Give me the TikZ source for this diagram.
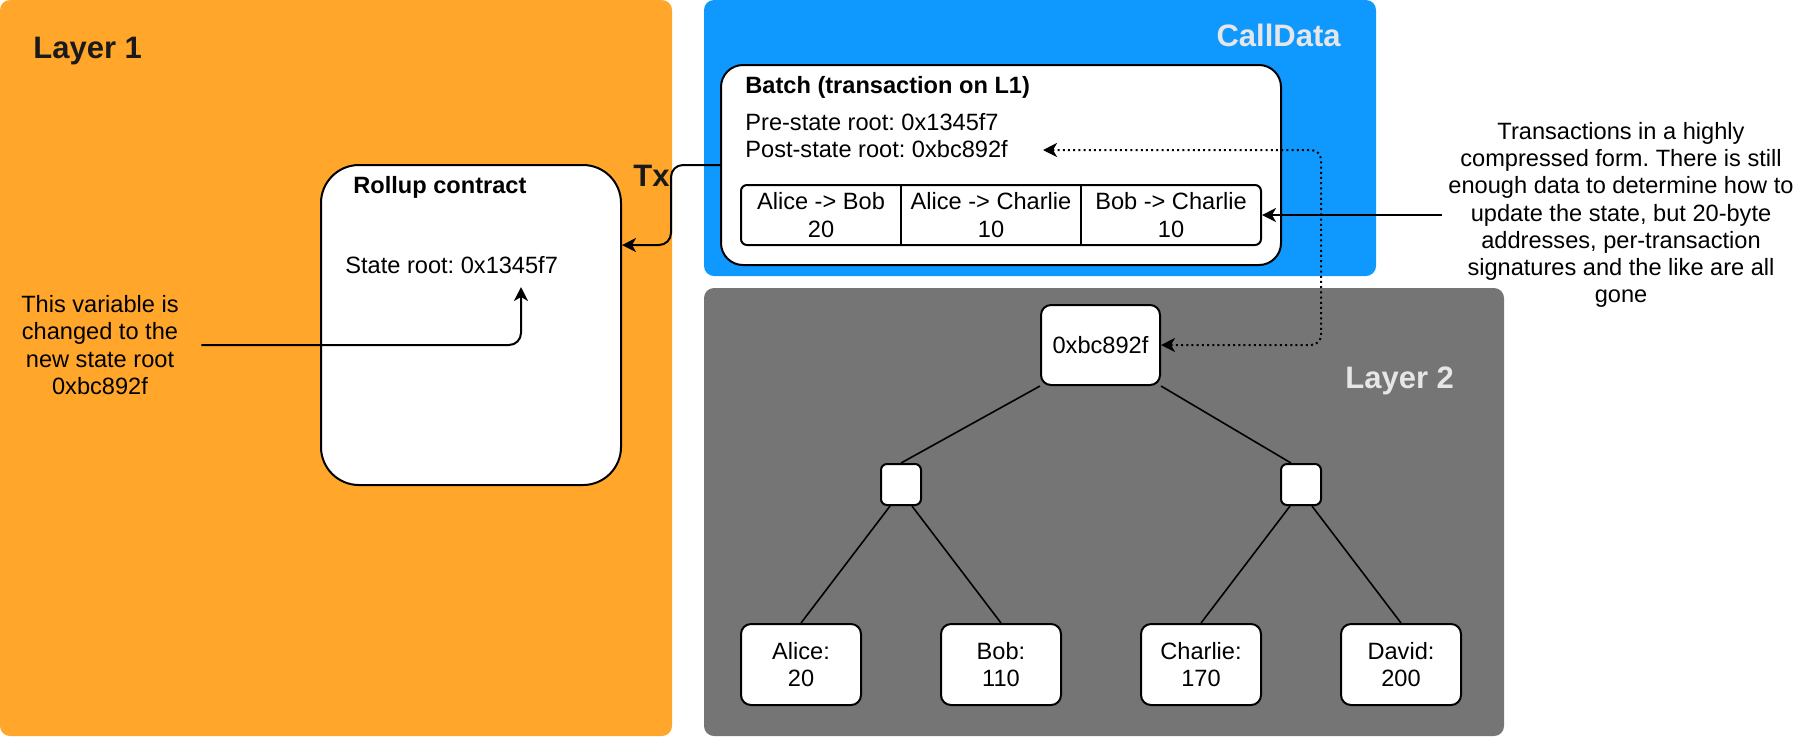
\documentclass[tikz,border=0pt]{standalone}
\usepackage{fontspec}
\setmainfont{Liberation Sans}
\usetikzlibrary{arrows.meta}
\definecolor{orangeL}{RGB}{255,166,43}
\definecolor{blueC}{RGB}{15,153,255}
\definecolor{grayL}{RGB}{117,117,117}
\definecolor{lightlab}{RGB}{230,230,230}
\definecolor{darklab}{RGB}{26,26,26}
\frenchspacing
\begin{document}
\begin{tikzpicture}[x=0.5pt,y=-0.5pt,
  txt/.style={font=\fontsize{11.8pt}{13.6pt}\selectfont, inner sep=0pt},
  btxt/.style={font=\fontsize{11.8pt}{13.6pt}\selectfont\bfseries, inner sep=0pt},
  head/.style={font=\fontsize{15.5pt}{18pt}\selectfont\bfseries, inner sep=0pt},
  wbox/.style={draw=black, line width=1pt, fill=white, inner sep=0pt, rounded corners=#1},
  wbox/.default=5pt,
  cell/.style={txt, align=center, minimum height=30pt},
  leaf/.style={wbox=5pt, txt, align=center, minimum width=60pt, minimum height=40.5pt},
  arr/.style={line width=1pt, -{Stealth[length=7pt,width=7pt,inset=2pt]}},
  dotarr/.style={line width=1pt, dash pattern=on 1pt off 1.6pt,
     {Stealth[length=7pt,width=7pt,inset=2pt]}-{Stealth[length=7pt,width=7pt,inset=2pt]}},
  tline/.style={line width=0.8pt}
]
\useasboundingbox (0,0) rectangle (1802,736);

% region backgrounds
\fill[orangeL, rounded corners=5pt] (0,0) rectangle (672,736);
\fill[blueC, rounded corners=5pt] (704,0) rectangle (1376,276);
\fill[grayL, rounded corners=5pt] (704,288) rectangle (1504,736);

% region labels
\node[head, text=darklab, anchor=base west] (l1) at (33,58) {Layer 1};
\node[head, text=lightlab, anchor=base east] (cd) at (1341,46) {CallData};
\node[head, text=lightlab, anchor=base west] (l2) at (1345,388) {Layer 2};
\node[head, text=darklab, anchor=base west] (tx) at (633,186) {Tx};

% rollup contract
\node[wbox=19pt, minimum width=150pt, minimum height=160pt] (rollup) at (471,325) {};
\node[btxt, anchor=base west] (rolluplab) at (353,193) {Rollup contract};
\node[txt, anchor=base west] (stateroot) at (345,273) {State root: 0x1345f7};

% batch
\node[wbox=11pt, minimum width=280pt, minimum height=100pt] (batch) at (1001,165) {};
\node[btxt, anchor=base west] (batchlab) at (745,93) {Batch (transaction on L1)};
\node[txt, anchor=base west] (pre) at (745,130) {Pre-state root: 0x1345f7};
\node[txt, anchor=base west] (post) at (745,157) {Post-state root: 0xbc892f};
\node[wbox=3pt, minimum width=260pt, minimum height=30pt] (table) at (1001,215) {};
\node[cell, minimum width=80pt] (c1) at (821,215) {Alice -> Bob\\20};
\node[cell, minimum width=90pt] (c2) at (991,215) {Alice -> Charlie\\10};
\node[cell, minimum width=90pt] (c3) at (1171,215) {Bob -> Charlie\\10};
\draw[line width=1pt] (c1.north east) -- (c1.south east);
\draw[line width=1pt] (c2.north east) -- (c2.south east);

% tree
\node[wbox=5pt, txt, minimum width=59.5pt, minimum height=40pt] (root) at (1100.5,345) {0xbc892f};
\node[wbox=3pt, minimum width=20pt, minimum height=20.5pt] (s1) at (901,484.5) {};
\node[wbox=3pt, minimum width=20pt, minimum height=20.5pt] (s2) at (1301,484.5) {};
\node[leaf] (alice) at (801,664.5) {Alice:\\20};
\node[leaf] (bob) at (1001,664.5) {Bob:\\110};
\node[leaf] (charlie) at (1201,664.5) {Charlie:\\170};
\node[leaf] (david) at (1401,664.5) {David:\\200};

\draw[tline] (root.south west) -- (s1.north);
\draw[tline] (root.south east) -- ([xshift=-5pt]s2.north);
\draw[tline] (s1.-117) -- (alice.north);
\draw[tline] (s1.-63) -- (bob.north);
\draw[tline] (s2.-117) -- (charlie.north);
\draw[tline] (s2.-63) -- (david.north);

% annotations
\node[txt, align=center, minimum width=101pt] (ann1) at (100,345)
  {This variable is\\changed to the\\new state root\\0xbc892f};
\node[txt, align=center, minimum width=179pt] (ann2) at (1621,215)
  {Transactions in a highly\\compressed form. There is still\\enough data to determine how to\\update the state, but 20-byte\\addresses, per-transaction\\signatures and the like are all\\gone};

% connectors
\coordinate (srtip) at (521,287);
\draw[arr, rounded corners=6pt] (ann1.east) -| (srtip);

\coordinate (txa) at (671,165);
\coordinate (txb) at (671,245);
\draw[arr, rounded corners=6pt] (batch.west) -- (txa) -- (txb) -- (rollup.east |- txb);

\draw[arr] (ann2.west) -- (table.east);

\coordinate (posttip) at (1043,150);
\coordinate (dcorner) at (1321,150);
\draw[dotarr, rounded corners=5pt] (posttip) -- (dcorner) |- (root.east);
\end{tikzpicture}
\end{document}
